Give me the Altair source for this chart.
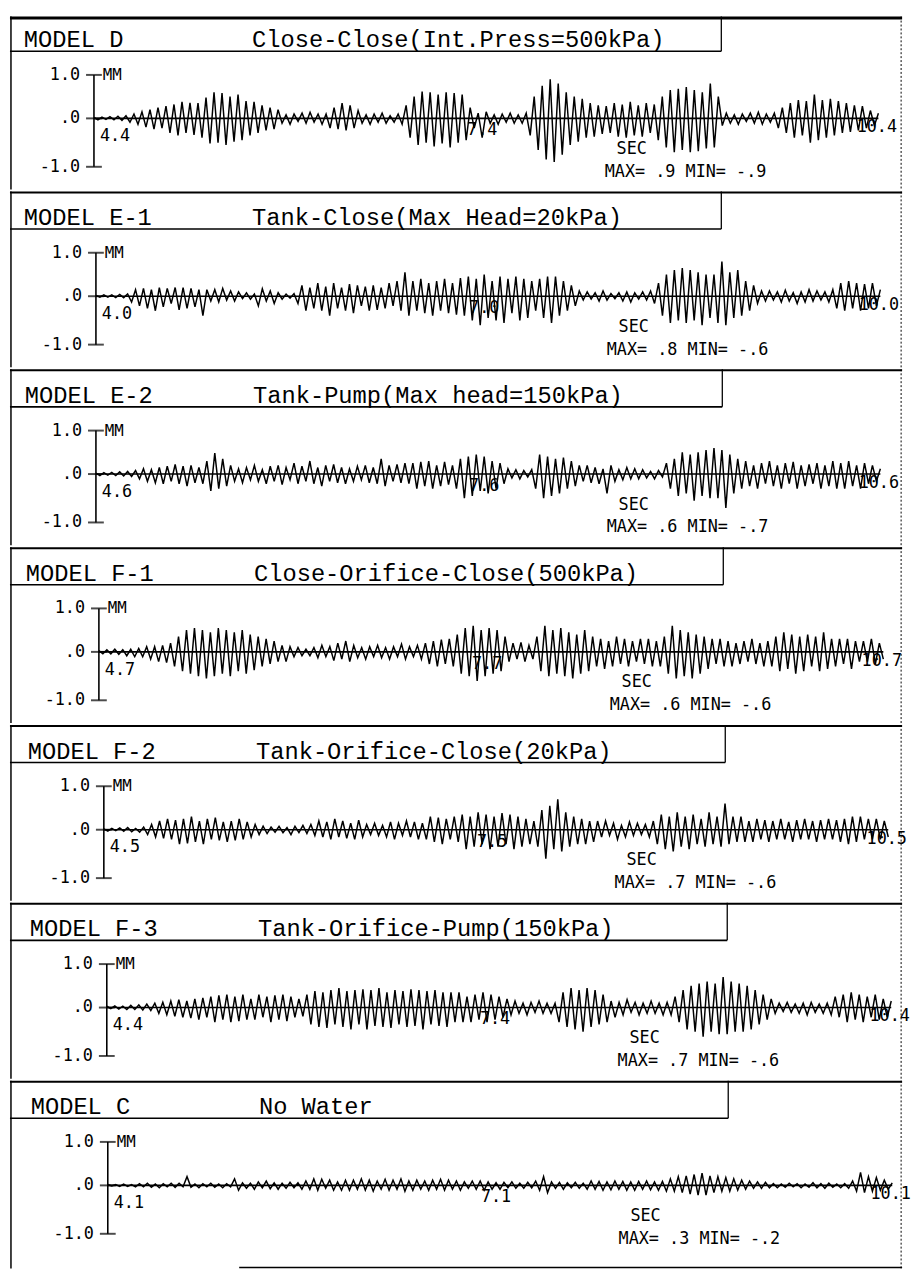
import altair as alt
import pandas as pd

# ------------------------------------------------------------------ data
models = ["MODEL D", "MODEL E-1", "MODEL E-2", "MODEL F-1",
          "MODEL F-2", "MODEL F-3", "MODEL C"]
titles = ["Close-Close(Int.Press=500kPa)", "Tank-Close(Max Head=20kPa)",
          "Tank-Pump(Max head=150kPa)", "Close-Orifice-Close(500kPa)",
          "Tank-Orifice-Close(20kPa)", "Tank-Orifice-Pump(150kPa)", "No Water"]
start_sec = [4.4, 4.0, 4.6, 4.7, 4.5, 4.4, 4.1]
mid_sec = [7.4, 7.0, 7.6, 7.7, 7.5, 7.4, 7.1]
end_sec = [10.4, 10.0, 10.6, 10.7, 10.5, 10.4, 10.1]
max_txt = [".9", ".8", ".6", ".6", ".7", ".7", ".3"]
min_txt = ["-.9", "-.6", "-.7", "-.6", "-.6", "-.6", "-.2"]
y_ticks = [-1.0, 0.0, 1.0]
y_tick_labels = ["-1.0", ".0", "1.0"]

# displacement (MM): successive half-cycle peaks
wave_D = [
    0.02, -0.03, 0.03, -0.02, 0.04, -0.03, 0.05, -0.04, 0.06,
    -0.08, 0.1, -0.12, 0.15, -0.18, 0.2, -0.22, 0.25, -0.2,
    0.28, -0.3, 0.32, -0.35, 0.38, -0.3, 0.36, -0.34, 0.35,
    -0.4, 0.48, -0.52, 0.6, -0.5, 0.58, -0.55, 0.5, -0.48, 0.55, -0.45,
    0.4, -0.35, 0.38, -0.3, 0.3, -0.25, 0.25, -0.22, 0.2,
    -0.1, 0.08, -0.12, 0.1, -0.06, 0.12, -0.1, 0.14, -0.08, 0.1, -0.12, 0.1,
    -0.2, 0.25, -0.22, 0.35, -0.25, 0.3, -0.2, 0.18,
    -0.1, 0.08, -0.12, 0.1, -0.08, 0.12, -0.1, 0.06, -0.08, 0.1, -0.12,
    0.3, -0.4, 0.5, -0.55, 0.62, -0.5, 0.6, -0.58, 0.55, -0.52, 0.6, -0.6,
    0.58, -0.5, 0.55, -0.45,
    0.25, -0.2, 0.12, -0.4, 0.15, -0.1, 0.08, -0.12, 0.1, -0.08, 0.12, -0.1,
    0.08, -0.1, 0.12,
    -0.35, 0.5, -0.65, 0.75, -0.85, 0.9, -0.9, 0.8, -0.75, 0.6,
    -0.55, 0.5, -0.48, 0.45, -0.4, 0.35, -0.38, 0.3, -0.32, 0.28,
    -0.3, 0.35, -0.38, 0.32, -0.4, 0.38, -0.35, 0.3, -0.38, 0.35, -0.3, 0.32,
    -0.45, 0.5, -0.6, 0.65, -0.7, 0.68, -0.65, 0.72, -0.7, 0.65, -0.68, 0.6,
    -0.62, 0.8, -0.6, 0.5,
    -0.15, 0.12, -0.1, 0.08, -0.12, 0.1, -0.06, 0.12, -0.1, 0.14, -0.12, 0.1,
    -0.08, 0.12,
    -0.2, 0.25, -0.3, 0.35, -0.4, 0.42, -0.35, 0.4, -0.5, 0.55, -0.45, 0.42,
    -0.4, 0.45, -0.35, 0.4, -0.3, 0.35, -0.28, 0.3, -0.25, 0.28,
    -0.2, 0.18, -0.15, 0.12]

wave_E1 = [
    0.02, -0.02, 0.03, -0.02, 0.03, -0.03, 0.04, -0.03, 0.05,
    -0.12, 0.15, -0.2, 0.18, -0.25, 0.15, -0.3, 0.2, -0.22, 0.18, -0.15, 0.2,
    -0.28, 0.2, -0.25, 0.18, -0.22, 0.15, -0.4, 0.15,
    -0.1, 0.15, -0.12, 0.18, -0.08, 0.12, -0.1, 0.1, -0.05, 0.08, -0.06, 0.05,
    -0.2, 0.17, -0.1, 0.12, -0.15, 0.08, -0.06, 0.05, -0.04, 0.06,
    -0.15, 0.25, -0.3, 0.2, -0.25, 0.3, -0.3, 0.22, -0.4, 0.3, -0.25, 0.2,
    -0.3, 0.28, -0.35, 0.25, -0.2, 0.22, -0.3, 0.25, -0.28, 0.2, -0.25, 0.3,
    -0.2,
    0.35, -0.3, 0.55, -0.4, 0.35, -0.3, 0.4, -0.35, 0.3, -0.4, 0.35, -0.3,
    0.4, -0.35, 0.3, -0.38, 0.42, -0.4,
    0.45, -0.5, 0.4, -0.6, 0.5, -0.45, 0.35, -0.5, 0.45, -0.55, 0.4, -0.35,
    0.45, -0.5, 0.4, -0.45, 0.35, -0.3,
    0.4, -0.45, 0.45, -0.55, 0.45, -0.4, 0.35, -0.3, 0.25, -0.2,
    0.12, -0.08, 0.1, -0.06, 0.08, -0.1, 0.12, -0.08, 0.06, -0.05, 0.08, -0.1,
    0.1, -0.12, 0.08, -0.06, 0.1, -0.08, 0.12, -0.15,
    0.3, -0.4, 0.5, -0.55, 0.6, -0.5, 0.65, -0.55, 0.6, -0.5, 0.55, -0.6,
    0.5, -0.45, 0.5,
    -0.55, 0.8, -0.6, 0.55, -0.45, 0.6, -0.4, 0.35, -0.3, 0.25,
    -0.15, 0.12, -0.1, 0.12, -0.08, 0.1, -0.12, 0.14, -0.1, 0.08, -0.15, 0.1,
    -0.12, 0.15, -0.1, 0.12, -0.08, 0.1, -0.12, 0.15,
    -0.25, 0.3, -0.3, 0.35, -0.25, 0.3, -0.3, 0.28, -0.25, 0.3, -0.2, 0.15]

wave_E2 = [
    0.02, -0.03, 0.03, -0.02, 0.04, -0.03, 0.05, -0.04, 0.06, -0.05,
    0.08, -0.1, 0.12, -0.15, 0.1, -0.18, 0.15, -0.2, 0.18, -0.15, 0.22, -0.2,
    0.18, -0.25, 0.2, -0.18, 0.15, -0.2,
    0.3, -0.35, 0.48, -0.3, 0.35, -0.25, 0.2,
    -0.15, 0.12, -0.18, 0.15, -0.12, 0.2, -0.15, 0.1, -0.2, 0.18, -0.15, 0.2,
    -0.22, 0.15, -0.12, 0.25, -0.2, 0.18, -0.15, 0.3, -0.2, 0.15, -0.25, 0.2,
    -0.15, 0.22, -0.18, 0.15, -0.2, 0.12, -0.15, 0.18, -0.12, 0.2, -0.18, 0.15,
    -0.2, 0.35, -0.25, 0.2, -0.15, 0.22, -0.18, 0.25, -0.2,
    0.25, -0.3, 0.28, -0.25, 0.3, -0.3, 0.2, -0.25, 0.28, -0.22, 0.2,
    -0.3, 0.35, -0.5, 0.4, -0.45, 0.45, -0.35, 0.4, -0.4, 0.3, -0.3, 0.25, -0.2,
    0.12, -0.08, 0.1, -0.1, 0.08, -0.06, 0.1,
    -0.3, 0.45, -0.5, 0.4, -0.45, 0.35, -0.4, 0.38, -0.3, 0.3, -0.25, 0.2,
    -0.15, 0.2, -0.18, 0.15, -0.2, 0.12, -0.4, 0.2, -0.15, 0.1, -0.12, 0.15,
    -0.1, 0.12, -0.1,
    0.1, -0.08, 0.06, -0.1, 0.08, -0.06,
    0.25, -0.3, 0.35, -0.45, 0.5, -0.4, 0.45, -0.55, 0.5, -0.45, 0.55, -0.5,
    0.6, -0.5, 0.55, -0.7, 0.45, -0.4, 0.35, -0.3, 0.3,
    -0.25, 0.2, -0.3, 0.25, -0.2, 0.3, -0.25, 0.2, -0.3, 0.25, -0.2, 0.28,
    -0.3, 0.2, -0.25, 0.22, -0.2, 0.25, -0.3, 0.2, -0.25,
    0.3, -0.3, 0.25, -0.3, 0.3, -0.25, 0.2, -0.3, 0.25, -0.2, 0.2, -0.15, 0.12]

wave_F1 = [
    0.03, -0.04, 0.05, -0.04, 0.06, -0.05, 0.05, -0.08, 0.06, -0.1, 0.08, -0.1,
    0.12, -0.15, 0.12, -0.2, 0.15, -0.22, 0.2,
    -0.3, 0.35, -0.4, 0.5, -0.45, 0.55, -0.5, 0.5, -0.55, 0.45, -0.5, 0.55,
    -0.45, 0.5, -0.5, 0.45, -0.4, 0.5, -0.45, 0.4, -0.38, 0.35,
    -0.3, 0.3, -0.25, 0.25, -0.2, 0.15, -0.2, 0.12, -0.1, 0.1, -0.08, 0.06,
    -0.08, 0.1, -0.12, 0.15, -0.1, 0.12, -0.18, 0.2, -0.15, 0.25, -0.2, 0.15,
    -0.12, 0.1, -0.15, 0.12, -0.1, 0.15, -0.12, 0.1, -0.15, 0.12, -0.1, 0.18,
    -0.15, 0.12, -0.1, 0.15, -0.15,
    0.2, -0.25, 0.25, -0.3, 0.28, -0.25, 0.3, -0.3,
    0.4, -0.45, 0.55, -0.5, 0.6, -0.6, 0.5, -0.5, 0.55, -0.45, 0.5, -0.4, 0.35,
    -0.2, 0.2, -0.15, 0.22, -0.2, 0.15, -0.15,
    0.35, -0.4, 0.6, -0.5, 0.5, -0.45, 0.55, -0.5, 0.45, -0.55, 0.4, -0.45,
    0.5, -0.4, 0.35,
    -0.3, 0.3, -0.35, 0.25, -0.3, 0.35, -0.25, 0.3, -0.3, 0.25, -0.2, 0.3,
    -0.25, 0.3, -0.3, 0.25, -0.3,
    0.35, -0.45, 0.6, -0.55, 0.5, -0.5, 0.45, -0.55, 0.4, -0.45, 0.35, -0.35,
    0.3, -0.25, 0.3, -0.3, 0.25, -0.3, 0.2, -0.25, 0.25, -0.2, 0.3, -0.25,
    0.2, -0.3, 0.25, -0.3,
    0.35, -0.4, 0.45, -0.35, 0.4, -0.45, 0.35, -0.4, 0.4, -0.3, 0.35, -0.4,
    0.45, -0.35, 0.3, -0.3,
    0.3, -0.25, 0.3, -0.35, 0.25, -0.2, 0.25, -0.2, 0.3, -0.25, 0.2, -0.15]

wave_F2 = [
    0.02, -0.03, 0.03, -0.02, 0.04, -0.03, 0.05, -0.04, 0.03, -0.05, 0.06,
    -0.1, 0.12, -0.15, 0.2, -0.18, 0.25, -0.2, 0.22, -0.3, 0.25, -0.28, 0.3,
    -0.25, 0.2, -0.3, 0.25, -0.2, 0.28, -0.22, 0.18, -0.25, 0.2, -0.22, 0.25,
    -0.2, 0.18, -0.15, 0.12, -0.1, 0.08,
    -0.08, 0.06, -0.05, 0.08, -0.06, 0.05, -0.1, 0.08, -0.06, 0.1, -0.08, 0.12,
    -0.12, 0.2, -0.15, 0.18, -0.2, 0.25, -0.15, 0.2, -0.18, 0.15, -0.2, 0.22,
    -0.15, 0.12, -0.1, 0.15, -0.12, 0.1, -0.15, 0.18, -0.2, 0.15, -0.12, 0.2,
    -0.15, 0.18, -0.2, 0.15, -0.2,
    0.3, -0.25, 0.28, -0.3, 0.25, -0.2, 0.3, -0.25,
    0.35, -0.4, 0.3, -0.35, 0.4, -0.3, 0.35, -0.4, 0.3, -0.35, 0.38, -0.3,
    0.35, -0.4, 0.3, -0.35, 0.25, -0.3, 0.2,
    -0.35, 0.45, -0.6, 0.55, -0.4, 0.7, -0.45, 0.4,
    -0.35, 0.3, -0.3, 0.25, -0.3, 0.2, -0.25, 0.2,
    -0.15, 0.2, -0.12, 0.15, -0.2, 0.1, -0.15, 0.18, -0.12, 0.15, -0.1, 0.12,
    -0.15, 0.2,
    -0.3, 0.35, -0.4, 0.3, -0.45, 0.4, -0.35, 0.3, -0.4, 0.35, -0.3, 0.25,
    -0.35, 0.4, -0.3, 0.3, -0.35, 0.6, -0.3, 0.3, -0.25, 0.3, -0.25,
    0.2, -0.25, 0.25, -0.2, 0.22, -0.25, 0.2, -0.2, 0.25, -0.2, 0.18, -0.25,
    0.22, -0.2, 0.25, -0.2, 0.2, -0.25, 0.22, -0.2, 0.25, -0.2, 0.22, -0.25,
    0.25, -0.3, 0.3, -0.25, 0.3, -0.2, 0.25, -0.2, 0.25, -0.2, 0.2, -0.15]

wave_F3 = [
    0.03, -0.02, 0.04, -0.03, 0.03, -0.04, 0.05, -0.04, 0.06, -0.05, 0.08, -0.06,
    0.1, -0.12, 0.12, -0.15, 0.15, -0.18, 0.18, -0.2, 0.15, -0.22, 0.2, -0.25,
    0.22, -0.2, 0.25, -0.3, 0.28, -0.25, 0.3, -0.3, 0.25, -0.28, 0.3, -0.25,
    0.2, -0.25, 0.3, -0.2, 0.25, -0.3, 0.28, -0.25, 0.3, -0.28, 0.25, -0.2,
    0.2, -0.18,
    0.3, -0.35, 0.38, -0.4, 0.35, -0.42, 0.4, -0.35, 0.45, -0.4, 0.38, -0.45,
    0.4, -0.35, 0.42, -0.45, 0.4, -0.38, 0.45, -0.4, 0.35, -0.42, 0.4, -0.35,
    0.38, -0.4, 0.42, -0.38, 0.4, -0.45, 0.38, -0.35, 0.4, -0.38, 0.35, -0.4,
    0.35, -0.3, 0.35, -0.3, 0.25, -0.3,
    0.3, -0.25, 0.35, -0.3, 0.3, -0.25, 0.25, -0.2, 0.2, -0.15, 0.15,
    -0.12, 0.1, -0.15, 0.12, -0.1, 0.15, -0.12, 0.1, -0.12, 0.1,
    -0.3, 0.35, -0.4, 0.45, -0.45, 0.4, -0.5, 0.45, -0.4, 0.4, -0.35, 0.3, -0.3,
    0.15, -0.2, 0.12, -0.15, 0.18, -0.1, 0.12, -0.15, 0.1, -0.12, 0.15, -0.12,
    0.1, -0.15, 0.12, -0.15,
    0.25, -0.3, 0.4, -0.45, 0.5, -0.5, 0.55, -0.6, 0.6, -0.5, 0.55, -0.55,
    0.7, -0.55, 0.6, -0.5, 0.55, -0.5, 0.5, -0.45, 0.4, -0.35, 0.3, -0.25, 0.2,
    -0.12, 0.1, -0.08, 0.12, -0.1, 0.08, -0.12, 0.1, -0.15, 0.12, -0.1, 0.08,
    -0.12, 0.1, -0.15,
    0.25, -0.2, 0.3, -0.3, 0.35, -0.25, 0.3, -0.3, 0.25, -0.2, 0.3, -0.25,
    0.2, -0.2, 0.15]

wave_C = [
    0.02, -0.01, 0.02, -0.02, 0.03, -0.02, 0.02, -0.03,
    0.04, -0.03, 0.05, -0.04, 0.03, -0.05, 0.04, -0.03, 0.05, -0.04,
    0.05, -0.03, 0.2,
    -0.04, 0.03, -0.05, 0.04, -0.03, 0.05, -0.04, 0.03, -0.05, 0.04, -0.03,
    0.15, -0.1, 0.06,
    -0.06, 0.05, -0.08, 0.08, -0.05, 0.1, -0.07, 0.06, -0.08, 0.05, -0.06,
    0.07, -0.05, 0.06,
    -0.08, 0.1, -0.08, 0.15, -0.1, 0.14, -0.06, 0.12, -0.1, 0.08, -0.1, 0.12,
    -0.1, 0.12, -0.08, 0.15, -0.1, 0.12, -0.12, 0.1, -0.08, 0.14, -0.1, 0.12,
    -0.08, 0.15, -0.12, 0.1, -0.1, 0.12, -0.08, 0.1, -0.1, 0.12, -0.08, 0.14,
    -0.1,
    0.12, -0.08, 0.1, -0.1, 0.08, -0.06, 0.1, -0.08, 0.1, -0.1, 0.08, -0.08,
    0.06, -0.08, 0.07, -0.05, 0.08, -0.06, 0.05, -0.06, 0.07, -0.05,
    0.1, -0.1, 0.2, -0.15,
    0.08, -0.06, 0.07, -0.08, 0.06, -0.05, 0.07, -0.06, 0.05,
    -0.08, 0.1, -0.08, 0.09, -0.1, 0.08, -0.09, 0.1, -0.08, 0.09, -0.1, 0.08,
    -0.1, 0.09, -0.08, 0.1, -0.09, 0.08, -0.1, 0.09,
    -0.12, 0.15, -0.12, 0.2, -0.15, 0.22, -0.18, 0.25, -0.2, 0.28, -0.2, 0.22,
    -0.15, 0.2, -0.12, 0.18, -0.12, 0.15,
    -0.1, 0.12, -0.08, 0.1, -0.06, 0.08, -0.06, 0.07, -0.05,
    0.04, -0.05, 0.03, -0.04, 0.05, -0.03, 0.04, -0.05, 0.03, -0.04, 0.06,
    -0.05, 0.04, -0.06, 0.05, -0.04, 0.03, -0.05, 0.04, -0.06,
    0.1, -0.12, 0.3, -0.15, 0.2, -0.12, 0.18, -0.1, 0.12, -0.08, 0.06]

waves = [wave_D, wave_E1, wave_E2, wave_F1, wave_F2, wave_F3, wave_C]

# ------------------------------------------------------------------ layout
W = 903
heights = [175, 178, 178, 178, 178, 178, 190]
voff = [-3, 0, 0, 0, 0, 0, 0]            # vertical placement of each record
plot_shift = [0, 2, 2, 5, 10, 13, 14]     # scan skew of each record
head_shift = [0, 0, 1, 2, 4, 6, 7]
MONO_HEAD = "Liberation Mono"
MONO_SMALL = "DejaVu Sans Mono"

one = pd.DataFrame({"k": [0]})


def vrule(x, y0, y1, **kw):
    return alt.Chart(one).mark_rule(color="black", **kw).encode(
        x=alt.value(x), y=alt.value(y0), y2=alt.value(y1))


def hrule(y, x0, x1, **kw):
    return alt.Chart(one).mark_rule(color="black", **kw).encode(
        y=alt.value(y), x=alt.value(x0), x2=alt.value(x1))


def label(txt, x, y, **kw):
    return alt.Chart(one).mark_text(text=txt, color="black", **kw).encode(
        x=alt.value(x), y=alt.value(y))


def panel(k):
    H = heights[k]
    sh = plot_shift[k]
    hs = head_shift[k]
    dv = voff[k]
    t0, tm, t1 = start_sec[k], mid_sec[k], end_sec[k]
    wave = waves[k]
    n = len(wave)
    df = pd.DataFrame({"t": [t0 + (t1 - t0) * i / (n - 1) for i in range(n)],
                       "v": wave})
    xs = alt.Scale(domain=[t0, t1], range=[85 + sh, 879 + sh], nice=False)
    ys = alt.Scale(domain=[-1, 0, 1], range=[155 + dv, 106 + dv, 62 + dv], nice=False)
    X = lambda f: alt.X(f, type="quantitative", scale=xs, axis=None)
    Y = lambda f: alt.Y(f, type="quantitative", scale=ys, axis=None)

    line = alt.Chart(df).mark_line(color="black", strokeWidth=1.5).encode(
        x=X("t"), y=Y("v"))

    ax = pd.DataFrame({"t": [t0], "t2": [t1], "lo": [-1.0], "hi": [1.0], "z": [0.0]})
    zero = alt.Chart(ax).mark_rule(color="black", strokeWidth=1.6).encode(
        x=X("t"), x2="t2", y=Y("z"))
    yline = alt.Chart(ax).mark_rule(color="black", strokeWidth=1.6).encode(
        x=X("t"), y=Y("lo"), y2="hi")

    tk = pd.DataFrame({"t": [t0] * 3, "v": y_ticks, "lab": y_tick_labels})
    ticks = alt.Chart(tk).mark_tick(color="black", orient="horizontal",
                                    size=16, thickness=2).encode(x=X("t"), y=Y("v"))
    ylabs = alt.Chart(tk).mark_text(align="right", baseline="middle", dx=-14,
                                    font=MONO_SMALL, fontSize=17,
                                    color="black").encode(
        x=X("t"), y=Y("v"), text="lab:N")
    mm = alt.Chart(tk.iloc[[2]]).mark_text(text="MM", align="left", baseline="middle",
                                           dx=9, font=MONO_SMALL, fontSize=16,
                                           color="black").encode(x=X("t"), y=Y("v"))

    xl = pd.DataFrame({"t": [t0, tm, t1],
                       "lab": [f"{t0:.1f}", f"{tm:.1f}", f"{t1:.1f}"]})
    xl0 = alt.Chart(xl.iloc[[0]]).mark_text(align="left", baseline="middle", dx=6,
                                           font=MONO_SMALL, fontSize=17,
                                           color="black").encode(
        x=X("t"), y=alt.value(124 + dv), text="lab:N")
    xl1 = alt.Chart(xl.iloc[[1]]).mark_text(align="center", baseline="middle", dx=-4,
                                           font=MONO_SMALL, fontSize=17,
                                           color="black").encode(
        x=X("t"), y=alt.value(118 + dv), text="lab:N")
    xl2 = alt.Chart(xl.iloc[[2]]).mark_text(align="left", baseline="middle", dx=-22,
                                           font=MONO_SMALL, fontSize=17,
                                           color="black").encode(
        x=X("t"), y=alt.value(115 + dv), text="lab:N")

    sec = label("SEC", 614 + sh, 137 + dv, align="left", baseline="middle",
                font=MONO_SMALL, fontSize=17)
    mx = label(f"MAX= {max_txt[k]} MIN= {min_txt[k]}", 602 + sh, 160 + dv,
               align="left", baseline="middle", font=MONO_SMALL, fontSize=17)

    head1 = label(models[k], 14 + hs, 34 + dv, align="left", baseline="alphabetic",
                  font=MONO_HEAD, fontSize=24)
    head2 = label(titles[k], 245 + hs, 34 + dv, align="left", baseline="alphabetic",
                  font=MONO_HEAD, fontSize=24)

    frame = [
        hrule(1.5 if k == 0 else 1, 0, W, strokeWidth=3 if k == 0 else 2),
        vrule(1, 0, H, strokeWidth=1.5),
        vrule(W - 1, 0, H, strokeWidth=1, strokeDash=[2, 2]),
        hrule(38 + dv, 0, 720 + hs, strokeWidth=1.6),
        vrule(720 + hs, 0, 38 + dv, strokeWidth=1.3),
    ]
    if k == len(models) - 1:
        frame.append(hrule(H - 1, 232, W, strokeWidth=1.5))

    return alt.layer(*frame, head1, head2, zero, yline, ticks, ylabs, mm,
                     xl0, xl1, xl2, sec, mx, line).properties(width=W, height=H)


chart = alt.vconcat(*[panel(k) for k in range(len(models))], spacing=0).properties(
    padding=0, background="white").configure_view(stroke=None)

chart.save("out.html", embed_options={"renderer": "svg", "actions": False})
